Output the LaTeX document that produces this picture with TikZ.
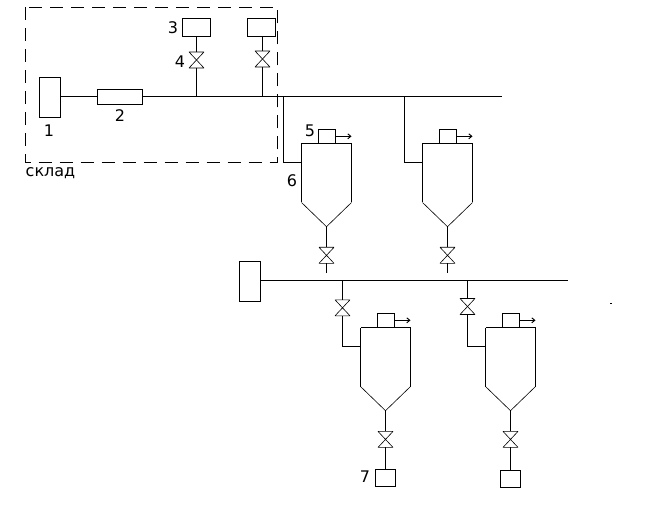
\documentclass[tikz,border=0pt]{standalone}
\usepackage{fontspec}
\setmainfont{DejaVu Sans}
\usetikzlibrary{arrows.meta}
\tikzset{
  pipe/.style={line width=0.95pt,line cap=butt,line join=miter},
  thinp/.style={line width=0.6pt,line join=bevel},
  unit/.style={draw,line width=0.95pt,inner sep=0pt,outer sep=0pt},
  valvebox/.style={inner sep=0pt,outer sep=0pt,minimum width=15pt,minimum height=16pt},
  lbl/.style={inner sep=0pt,font=\fontsize{16}{16}\selectfont},
  vent/.style={line width=0.95pt,-{Straight Barb[length=3pt,width=5pt,line width=0.95pt]}}
}
% name, x, y (centre)
\newcommand{\myvalve}[3]{%
  \node[valvebox] (#1) at (#2,#3) {};
  \draw[thinp] (#1.north west) -- (#1.north east) -- (#1.south west) -- (#1.south east) -- cycle;
}
% name, left x, top y
\newcommand{\myhopper}[3]{%
  \coordinate (#1-tl) at (#2,#3);
  \coordinate (#1-tr) at (#2+50,#3);
  \coordinate (#1-br) at (#2+50,#3+59);
  \coordinate (#1-bl) at (#2,#3+59);
  \coordinate (#1-apex) at (#2+25,#3+83.2);
  \coordinate (#1-inlet) at (#2,#3+19);
  \node[unit,minimum width=17pt,minimum height=14pt] (#1-cap) at (#2+25.5,#3-7) {};
  \coordinate (#1-ventend) at (#2+50,#3-7.2);
  \draw[pipe] (#1-tl) -- (#1-tr) -- (#1-br);
  \draw[pipe] (#1-bl) -- (#1-tl);
  \draw[thinp] (#1-bl) -- (#1-apex) -- (#1-br);
  \draw[vent] (#1-cap.east |- #1-ventend) -- (#1-ventend);
}
\begin{document}
\begin{tikzpicture}[x=1pt,y=-1pt]
\useasboundingbox (0,0) rectangle (668,510);
\fill[white] (0,0) rectangle (668,510);

% warehouse frame
\draw[line width=0.95pt,dash pattern=on 13pt off 8pt] (25.5,7.5) rectangle (277.5,162.5);
\node[lbl,anchor=base west] (skl) at (25.5,177) {склад};

% upper main line
\coordinate (mainS) at (60.5,96.5);
\coordinate (mainE) at (501.5,96.5);
\node[unit,minimum width=21pt,minimum height=40pt] (b1) at (50,97.3) {};
\node[unit,minimum width=45pt,minimum height=15pt] (b2) at (120,96.8) {};
\draw[pipe] (b1.east |- mainS) -- (b2.west |- mainS);
\draw[pipe] (b2.east |- mainS) -- (mainE);
\node[lbl] (n1) at (49,131) {1};
\node[lbl] (n2) at (120,116) {2};

% tanks with valves in the warehouse
\node[unit,minimum width=28pt,minimum height=18pt] (t1) at (196.5,27.5) {};
\myvalve{v1}{196.5}{60}
\coordinate (j1) at (196.5,96.5);
\draw[pipe] (t1.south) -- (v1.north);
\draw[pipe] (v1.south) -- (j1);
\node[unit,minimum width=28pt,minimum height=18pt] (t2) at (261.5,27.5) {};
\myvalve{v2}{262.5}{59}
\coordinate (j2) at (262.5,96.5);
\draw[pipe] (v2.north |- t2.south) -- (v2.north);
\draw[pipe] (v2.south) -- (j2);
\node[lbl] (n3) at (173,28) {3};
\node[lbl] (n4) at (180,62) {4};

% upper hoppers
\myhopper{h1}{301.5}{143.5}
\myhopper{h2}{422.5}{143.5}
\coordinate (j3) at (283.5,96.5);
\coordinate (j4) at (404.5,96.5);
\draw[pipe] (j3) |- (h1-inlet);
\draw[pipe] (j4) |- (h2-inlet);
\myvalve{v3}{326.5}{255.3}
\myvalve{v4}{447.5}{255.3}
\coordinate (e3) at (326.5,272.7);
\coordinate (e4) at (447.5,272.7);
\draw[pipe] (h1-apex) -- (v3.north);
\draw[pipe] (v3.south) -- (e3);
\draw[pipe] (h2-apex) -- (v4.north);
\draw[pipe] (v4.south) -- (e4);
\node[lbl] (n5) at (310,131) {5};
\node[lbl] (n6) at (292,181) {6};

% lower main line
\node[unit,minimum width=21pt,minimum height=40pt] (b3) at (250,281.5) {};
\coordinate (main2) at (567.7,280.5);
\draw[pipe] (b3.east |- main2) -- (main2);

% lower hoppers
\myhopper{h3}{360.5}{327.5}
\myhopper{h4}{485.5}{327.5}
\coordinate (j5) at (342.5,280.5);
\coordinate (j6) at (467.5,280.5);
\myvalve{v5}{342.5}{307.8}
\myvalve{v6}{467.5}{306.5}
\draw[pipe] (j5) -- (v5.north);
\draw[pipe] (j6) -- (v6.north);
\draw[pipe] (v5.south) |- (h3-inlet);
\draw[pipe] (v6.south) |- (h4-inlet);
\myvalve{v7}{385.5}{439.4}
\myvalve{v8}{510.5}{439.4}
\node[unit,minimum width=20.5pt,minimum height=17pt] (r1) at (385.5,477.9) {};
\node[unit,minimum width=20.5pt,minimum height=17pt] (r2) at (510.5,478.8) {};
\draw[pipe] (h3-apex) -- (v7.north);
\draw[pipe] (v7.south) -- (r1.north);
\draw[pipe] (h4-apex) -- (v8.north);
\draw[pipe] (v8.south) -- (r2.north);
\node[lbl] (n7) at (365,477) {7};

% stray speck
\fill (609.5,302.5) rectangle (611.5,303.5);
\end{tikzpicture}
\end{document}
